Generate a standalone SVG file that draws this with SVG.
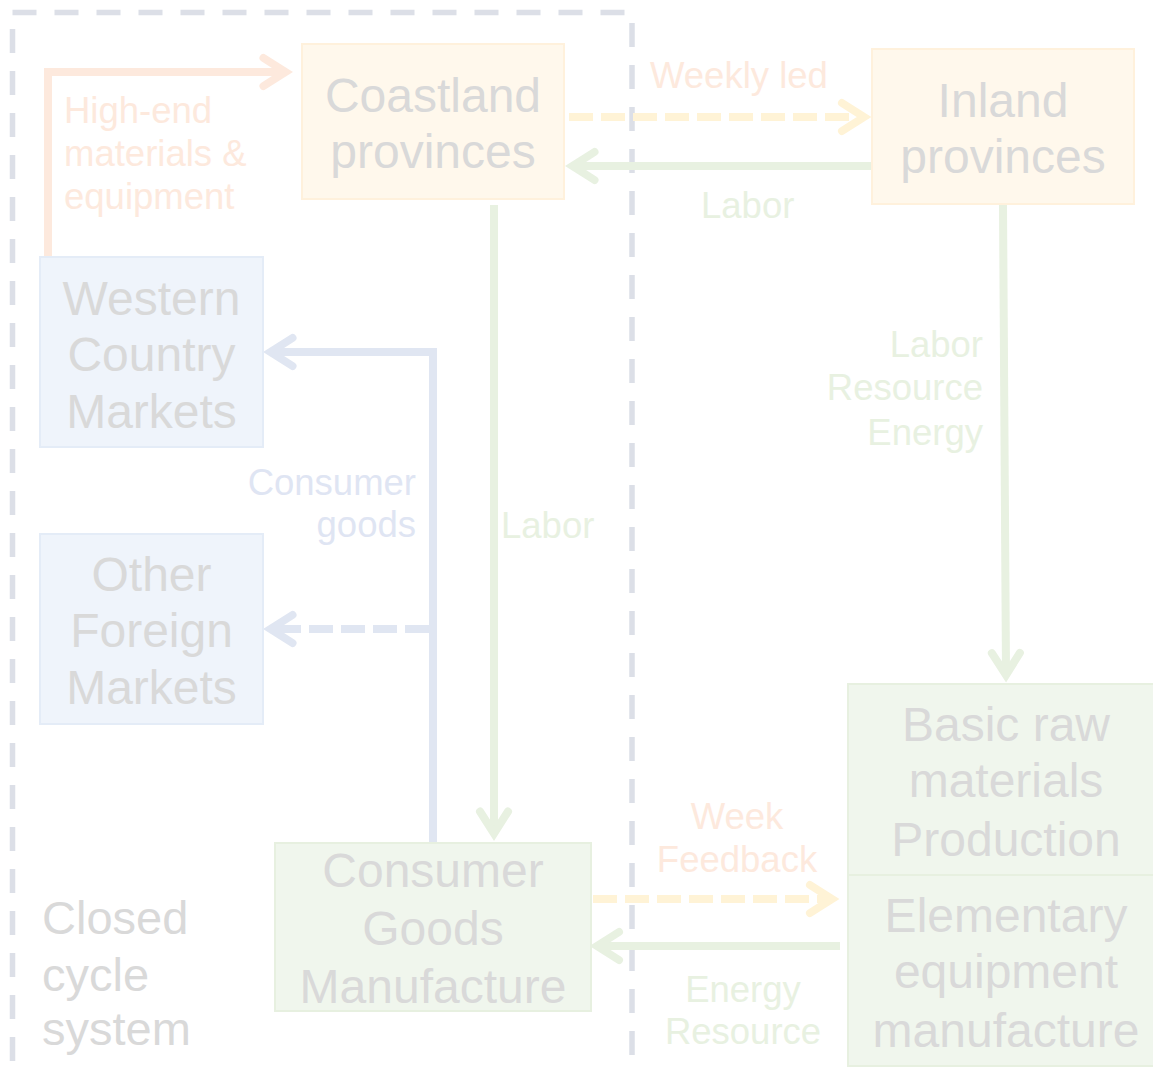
<svg xmlns="http://www.w3.org/2000/svg" width="1153" height="1068" viewBox="0 0 1153 1068">
<defs>
<style>
.node text{font-family:"Liberation Sans",Arial,sans-serif;font-size:48px;fill:#d9d9d9;text-anchor:middle}
.lbl{font-family:"Liberation Sans",Arial,sans-serif;font-size:36.5px}
.or{fill:#fde9dd}.gr{fill:#e8f1e1}.bl{fill:#dfe5f3}
.bo{fill:#fff8ec;stroke:#fff1dc;stroke-width:2}
.bb{fill:#eff4fb;stroke:#e4ecf7;stroke-width:2}
.bg{fill:#f0f6ed;stroke:#e7f0e0;stroke-width:2}
.c{fill:none;stroke-width:8}
.border{stroke:#dcdfe7;stroke-width:5.5;stroke-dasharray:24 18;fill:none}
</style>
<marker id="aO" markerUnits="userSpaceOnUse" markerWidth="60" markerHeight="60" refX="0" refY="0" viewBox="-40 -30 60 60" orient="auto" overflow="visible"><path d="M-22,-14 L0,0 L-22,14" fill="none" stroke="#fde9dd" stroke-width="8" stroke-linecap="round" stroke-linejoin="miter"/></marker>
<marker id="aY" markerUnits="userSpaceOnUse" markerWidth="60" markerHeight="60" refX="0" refY="0" viewBox="-40 -30 60 60" orient="auto" overflow="visible"><path d="M-22,-14 L0,0 L-22,14" fill="none" stroke="#fff3d6" stroke-width="8" stroke-linecap="round" stroke-linejoin="miter"/></marker>
<marker id="aG" markerUnits="userSpaceOnUse" markerWidth="60" markerHeight="60" refX="0" refY="0" viewBox="-40 -30 60 60" orient="auto" overflow="visible"><path d="M-22,-14 L0,0 L-22,14" fill="none" stroke="#e8f1e1" stroke-width="8" stroke-linecap="round" stroke-linejoin="miter"/></marker>
<marker id="aB" markerUnits="userSpaceOnUse" markerWidth="60" markerHeight="60" refX="0" refY="0" viewBox="-40 -30 60 60" orient="auto" overflow="visible"><path d="M-22,-14 L0,0 L-22,14" fill="none" stroke="#e0e6f2" stroke-width="8" stroke-linecap="round" stroke-linejoin="miter"/></marker>
</defs>
<rect width="1153" height="1068" fill="#ffffff"/>
<g id="boundary">
<line class="border" x1="12.5" y1="12.5" x2="634" y2="12.5"/>
<line class="border" x1="12.5" y1="29" x2="12.5" y2="1068"/>
<line class="border" x1="632" y1="23" x2="632" y2="1060"/>
<text class="lbl" x="42" y="934" style="font-size:47px;fill:#d9d9d9">Closed</text>
<text class="lbl" x="42" y="991" style="font-size:47px;fill:#d9d9d9">cycle</text>
<text class="lbl" x="42" y="1045" style="font-size:47px;fill:#d9d9d9">system</text>
</g>
<g id="connectors">
<polyline class="c" points="48,265 48,72 285.5,72" stroke="#fde9dd" marker-end="url(#aO)"/>
<line class="c" x1="569" y1="117" x2="864" y2="117" stroke="#fff3d6" stroke-dasharray="24 8" marker-end="url(#aY)"/>
<line class="c" x1="872" y1="166" x2="572.5" y2="166" stroke="#e8f1e1" marker-end="url(#aG)"/>
<line class="c" x1="494" y1="205" x2="494" y2="833.5" stroke="#e8f1e1" marker-end="url(#aG)"/>
<line class="c" x1="1003" y1="205" x2="1006" y2="675" stroke="#e8f1e1" marker-end="url(#aG)"/>
<polyline class="c" points="433,843 433,352 270.5,352" stroke="#e0e6f2" marker-end="url(#aB)"/>
<line class="c" x1="429" y1="629" x2="270.5" y2="629" stroke="#e0e6f2" stroke-dasharray="24 8" marker-end="url(#aB)"/>
<line class="c" x1="593" y1="899" x2="832" y2="899" stroke="#fff3d6" stroke-dasharray="24 8" marker-end="url(#aY)"/>
<line class="c" x1="840" y1="946" x2="597" y2="946" stroke="#e8f1e1" marker-end="url(#aG)"/>
<text class="lbl or" x="64" y="123">High-end</text>
<text class="lbl or" x="64" y="166">materials &amp;</text>
<text class="lbl or" x="64" y="209">equipment</text>
<text class="lbl or" x="650" y="88">Weekly led</text>
<text class="lbl gr" x="701" y="218">Labor</text>
<text class="lbl gr" x="501" y="538">Labor</text>
<text class="lbl bl" x="416" y="495" text-anchor="end">Consumer</text>
<text class="lbl bl" x="416" y="537" text-anchor="end">goods</text>
<text class="lbl gr" x="983" y="357" text-anchor="end">Labor</text>
<text class="lbl gr" x="983" y="400" text-anchor="end">Resource</text>
<text class="lbl gr" x="983" y="445" text-anchor="end">Energy</text>
<text class="lbl or" x="737" y="829" text-anchor="middle">Week</text>
<text class="lbl or" x="737" y="872" text-anchor="middle">Feedback</text>
<text class="lbl gr" x="743" y="1002" text-anchor="middle">Energy</text>
<text class="lbl gr" x="743" y="1044" text-anchor="middle">Resource</text>
</g>
<g id="coastland" class="node">
<rect class="bo" x="302" y="44" width="262" height="155"/>
<text x="433" y="112">Coastland</text>
<text x="433" y="168">provinces</text>
</g>
<g id="inland" class="node">
<rect class="bo" x="872" y="49" width="262" height="155"/>
<text x="1003" y="117">Inland</text>
<text x="1003" y="173">provinces</text>
</g>
<g id="western" class="node">
<rect class="bb" x="40" y="257" width="223" height="190"/>
<text x="151.5" y="315">Western</text>
<text x="151.5" y="371">Country</text>
<text x="151.5" y="428">Markets</text>
</g>
<g id="other" class="node">
<rect class="bb" x="40" y="534" width="223" height="190"/>
<text x="151.5" y="591">Other</text>
<text x="151.5" y="647">Foreign</text>
<text x="151.5" y="704">Markets</text>
</g>
<g id="basic" class="node">
<rect class="bg" x="848" y="684" width="316" height="191"/>
<text x="1006" y="741">Basic raw</text>
<text x="1006" y="797">materials</text>
<text x="1006" y="856">Production</text>
</g>
<g id="elementary" class="node">
<rect class="bg" x="848" y="875" width="316" height="191"/>
<text x="1006" y="932">Elementary</text>
<text x="1006" y="988">equipment</text>
<text x="1006" y="1047">manufacture</text>
</g>
<g id="consumer" class="node">
<rect class="bg" x="275" y="843" width="316" height="168"/>
<text x="433" y="887">Consumer</text>
<text x="433" y="945">Goods</text>
<text x="433" y="1003">Manufacture</text>
</g>
</svg>
